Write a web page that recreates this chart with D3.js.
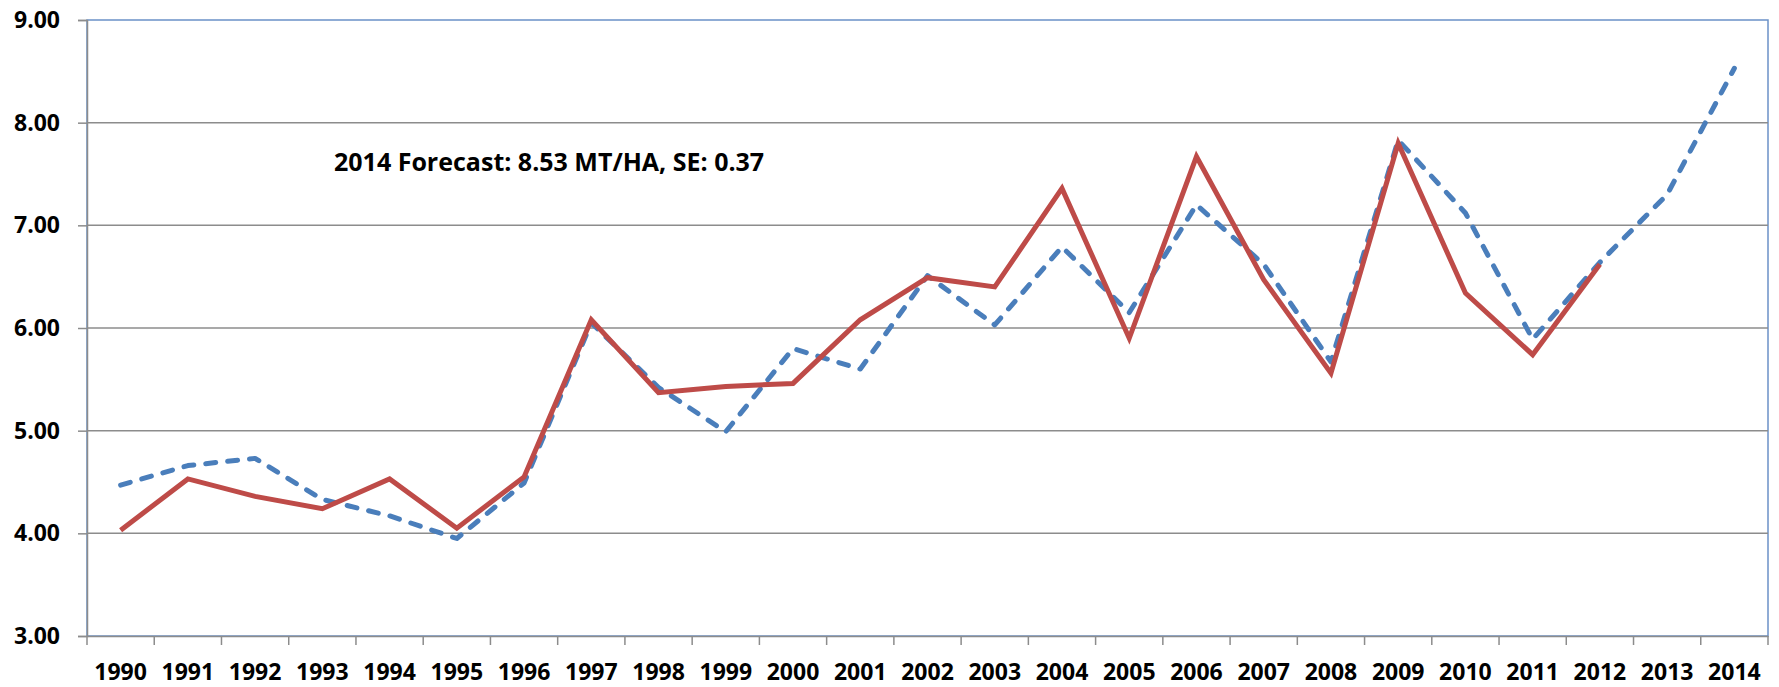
<!DOCTYPE html>
<html>
<head>
<meta charset="utf-8">
<script src="https://cdn.jsdelivr.net/npm/d3@7/dist/d3.min.js"></script>
<style>
  html, body { margin: 0; padding: 0; background: #ffffff; }
  svg { display: block; }
  text { font-family: "Open Sans", "Liberation Sans", sans-serif; font-weight: 700; fill: #000; }
</style>
</head>
<body>
<svg id="chart" width="1779" height="687"></svg>
<script>
const years = ["1990","1991","1992","1993","1994","1995","1996","1997","1998","1999","2000","2001","2002","2003","2004","2005","2006","2007","2008","2009","2010","2011","2012","2013","2014"];
const actualYears = years.slice(0, 23);
const actual = [4.03, 4.53, 4.36, 4.24, 4.53, 4.05, 4.55, 6.08, 5.37, 5.43, 5.46, 6.08, 6.49, 6.40, 7.36, 5.90, 7.67, 6.47, 5.56, 7.80, 6.34, 5.74, 6.62];
const forecast = [4.47, 4.66, 4.73, 4.33, 4.17, 3.95, 4.49, 6.05, 5.42, 4.99, 5.80, 5.60, 6.51, 6.03, 6.79, 6.15, 7.20, 6.62, 5.67, 7.83, 7.12, 5.89, 6.64, 7.30, 8.53];
const yTicks = [3, 4, 5, 6, 7, 8, 9];
const annotation = "2014 Forecast: 8.53 MT/HA, SE: 0.37";

const svg = d3.select("#chart");
const m = { left: 87, right: 1768, top: 20, bottom: 636 };

const x = d3.scaleBand().domain(years).range([m.left, m.right]).padding(0);
const y = d3.scaleLinear().domain([3, 9]).range([m.bottom, m.top]);
const cx = d => x(d) + x.bandwidth() / 2;

// plot area border (blue)
svg.append("rect")
  .attr("x", m.left).attr("y", m.top)
  .attr("width", m.right - m.left).attr("height", m.bottom - m.top)
  .attr("fill", "none").attr("stroke", "#6b91c7").attr("stroke-width", 1.5);

// gridlines
svg.append("g").selectAll("line").data(yTicks.filter(t => t > 3 && t < 9)).join("line")
  .attr("x1", m.left).attr("x2", m.right)
  .attr("y1", d => y(d)).attr("y2", d => y(d))
  .attr("stroke", "#8c8c8c").attr("stroke-width", 1.5);

// Y axis
const yAxis = svg.append("g").attr("transform", `translate(${m.left},0)`)
  .call(d3.axisLeft(y).tickValues(yTicks).tickFormat(d3.format(".2f")).tickSize(9).tickPadding(18));
yAxis.select(".domain").attr("stroke", "#8c8c8c").attr("stroke-width", 1.5);
yAxis.selectAll(".tick line").attr("stroke", "#8c8c8c").attr("stroke-width", 1.5);
yAxis.selectAll(".tick text").style("font-size", "23px").style("font-family", "\"Open Sans\", sans-serif").style("font-weight", 700).attr("fill", "#000");

// X axis
const xAxis = svg.append("g").attr("transform", `translate(0,${m.bottom})`)
  .call(d3.axisBottom(x).tickSize(0).tickPadding(0));
xAxis.select(".domain").attr("stroke", "#8c8c8c").attr("stroke-width", 1.5);
xAxis.selectAll(".tick text")
  .attr("y", 44).attr("dy", null)
  .style("font-size", "23px").style("font-family", "\"Open Sans\", sans-serif").style("font-weight", 700).attr("fill", "#000");
// tick marks at band boundaries
const boundaries = years.map(d => x(d)).concat([x(years[years.length - 1]) + x.bandwidth()]);
xAxis.append("g").selectAll("line").data(boundaries).join("line")
  .attr("x1", d => d).attr("x2", d => d).attr("y1", 0).attr("y2", 9)
  .attr("stroke", "#8c8c8c").attr("stroke-width", 1.5);

// lines
const line = d3.line().x(d => cx(d[0])).y(d => y(d[1]));

svg.append("path")
  .datum(years.map((d, i) => [d, forecast[i]]))
  .attr("d", line)
  .attr("fill", "none").attr("stroke", "#4a7ebb").attr("stroke-width", 5)
  .attr("stroke-dasharray", "10,12").attr("stroke-linecap", "round").attr("stroke-linejoin", "round");

svg.append("path")
  .datum(actualYears.map((d, i) => [d, actual[i]]))
  .attr("d", line)
  .attr("fill", "none").attr("stroke", "#be4b48").attr("stroke-width", 5)
  .attr("stroke-linejoin", "miter");

// annotation
svg.append("text")
  .attr("x", 334).attr("y", 171)
  .style("font-size", "25px")
  .text(annotation);
</script>
</body>
</html>
